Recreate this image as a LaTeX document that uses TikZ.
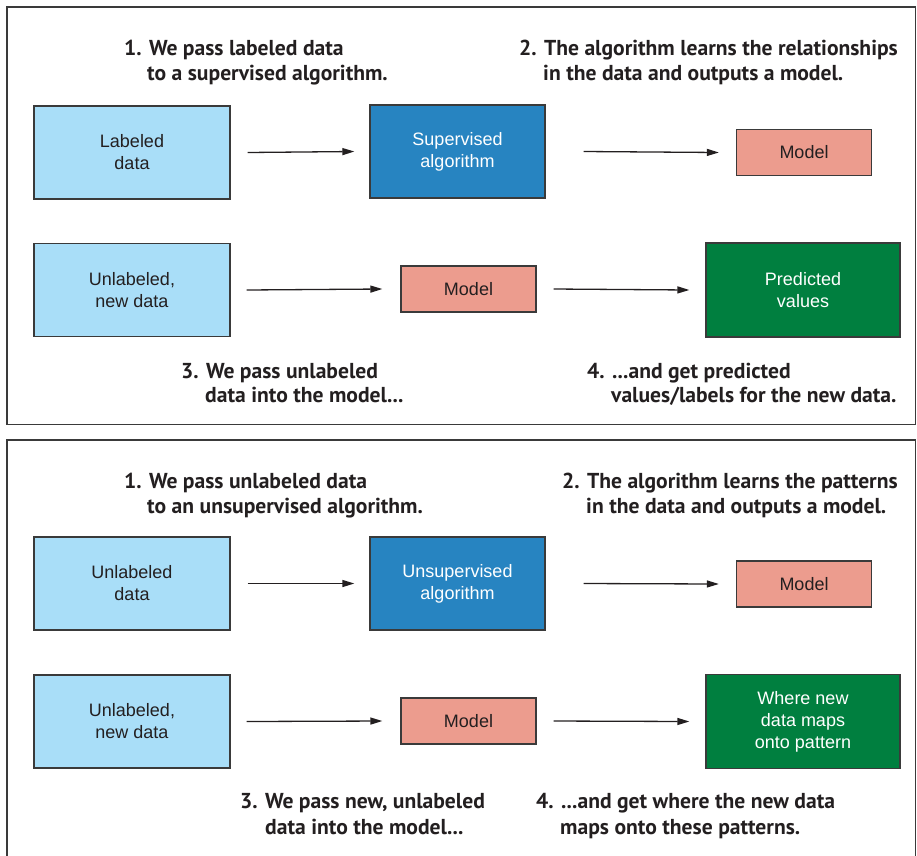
\documentclass[tikz,border=0pt]{standalone}
\usepackage{fontspec}
\setmainfont{Liberation Sans}
\newfontfamily\headfont{PT Sans}
\usetikzlibrary{arrows.meta}
\definecolor{lightblue}{HTML}{A9DEF8}
\definecolor{algoblue}{HTML}{2784C1}
\definecolor{salmon}{HTML}{EC9C8E}
\definecolor{darkgreen}{HTML}{007F3F}
\definecolor{ink}{HTML}{231F20}
\definecolor{framegray}{HTML}{3A3A3A}
\tikzset{
  box/.style={draw=framegray, line width=1.3pt, inner sep=0pt, align=center,
    font=\fontsize{18}{22}\selectfont},
  databox/.style={box, fill=lightblue, text=ink, minimum width=196, minimum height=93},
  algobox/.style={box, fill=algoblue, text=white, minimum width=175, minimum height=93},
  modelbox/.style={box, fill=salmon, text=ink, minimum width=135, minimum height=46},
  outbox/.style={box, fill=darkgreen, text=white, minimum width=194, minimum height=94},
  flow/.style={draw=ink, line width=1.3pt, -{Triangle[length=12pt,width=7pt]}},
  heading/.style={anchor=base west, inner sep=0pt, text=ink,
    font=\headfont\bfseries\fontsize{21.6}{25}\selectfont},
  panel/.style={draw=framegray, line width=1.3pt}
}
\begin{document}
\begin{tikzpicture}[x=1pt, y=-1pt]
  \useasboundingbox (0,0) rectangle (917,855);

  % --- supervised learning panel ---
  \draw[panel] (7,7) rectangle (915.5,424.5);

  \node[heading] (s1a) at (124,55) {1. We pass labeled data};
  \node[heading] (s1b) at (147,80) {to a supervised algorithm.};
  \node[heading] (s2a) at (519,55) {2. The algorithm learns the relationships};
  \node[heading] (s2b) at (543,80) {in the data and outputs a model.};

  \node[databox]  (ld)  at (132,152.5) {Labeled\\data};
  \node[algobox]  (sa)  at (457.5,151.5) {Supervised\\algorithm};
  \node[modelbox] (sm)  at (804,152.5) {Model};

  \node[databox]  (und) at (132,290) {Unlabeled,\\new data};
  \node[modelbox] (sm2) at (468.5,289) {Model};
  \node[outbox]   (pv)  at (803,290) {Predicted\\values};

  \draw[flow] ([xshift=17]ld.east)  -- ([xshift=-15]sa.west);
  \draw[flow] ([xshift=38]sa.east)  -- ([xshift=-17]sm.west);
  \draw[flow] ([xshift=16]und.east) -- ([xshift=-18]sm2.west);
  \draw[flow] ([xshift=17]sm2.east) -- ([xshift=-16]pv.west);

  \node[heading] (s3a) at (181,378) {3. We pass unlabeled};
  \node[heading] (s3b) at (205,402) {data into the model...};
  \node[heading] (s4a) at (587,378) {4. ...and get predicted};
  \node[heading] (s4b) at (611,402) {values/labels for the new data.};

  % --- unsupervised learning panel (open at the bottom) ---
  \draw[panel] (7,862) -- (7,440) -- (915.5,440) -- (915.5,862);

  \node[heading] (u1a) at (124,488) {1. We pass unlabeled data};
  \node[heading] (u1b) at (147,513) {to an unsupervised algorithm.};
  \node[heading] (u2a) at (562,488) {2. The algorithm learns the patterns};
  \node[heading] (u2b) at (586,513) {in the data and outputs a model.};

  \node[databox]  (ud)  at (132,583.5) {Unlabeled\\data};
  \node[algobox]  (ua)  at (457.5,583.5) {Unsupervised\\algorithm};
  \node[modelbox] (um)  at (804,584) {Model};

  \node[databox]  (und2) at (132,721.5) {Unlabeled,\\new data};
  \node[modelbox] (um2)  at (468.5,721) {Model};
  \node[outbox]   (wm)   at (803,721.5) {Where new\\data maps\\onto pattern};

  \draw[flow] ([xshift=17]ud.east)   -- ([xshift=-15]ua.west);
  \draw[flow] ([xshift=38]ua.east)   -- ([xshift=-17]um.west);
  \draw[flow] ([xshift=16]und2.east) -- ([xshift=-18]um2.west);
  \draw[flow] ([xshift=17]um2.east)  -- ([xshift=-16]wm.west);

  \node[heading] (u3a) at (240,808) {3. We pass new, unlabeled};
  \node[heading] (u3b) at (265,834) {data into the model...};
  \node[heading] (u4a) at (536,808) {4. ...and get where the new data};
  \node[heading] (u4b) at (560,834) {maps onto these patterns.};
\end{tikzpicture}
\end{document}
